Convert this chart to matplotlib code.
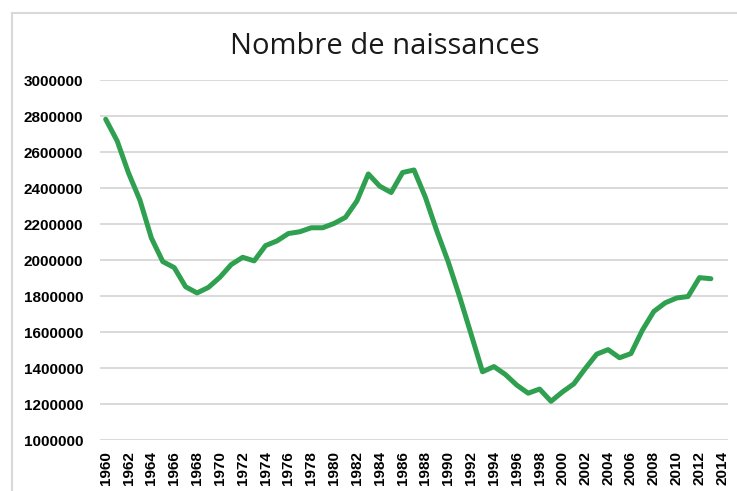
import numpy as np
import matplotlib.pyplot as plt
from matplotlib.lines import Line2D

# naissances par annee
years = list(range(1960, 2014))
births = [
    2782000, 2662000, 2483000, 2332000, 2122000, 1991000, 1958000, 1851000,
    1817000, 1848000, 1904000, 1975000, 2015000, 1995000, 2080000, 2106000,
    2147000, 2157000, 2179000, 2179000, 2203000, 2237000, 2328000, 2478000,
    2410000, 2375000, 2486000, 2500000, 2348000, 2161000, 1989000, 1795000,
    1588000, 1379000, 1408000, 1364000, 1305000, 1260000, 1283000, 1215000,
    1267000, 1312000, 1397000, 1477000, 1502000, 1457000, 1480000, 1610000,
    1714000, 1762000, 1789000, 1797000, 1902000, 1896000,
]
tick_years = list(range(1960, 2015, 2))
y_ticks = list(range(1000000, 3000001, 200000))

W, H = 737, 491
fig = plt.figure(figsize=(W / 100, H / 100), dpi=100)
ax = fig.add_axes([100 / W, 1 - 440 / H, 628 / W, 360 / H])

ax.plot(years, births, color="#2ea04f", lw=3.6, solid_joinstyle="round",
        solid_capstyle="round", zorder=3)

ax.set_xlim(1959.5, 2014.5)
ax.set_ylim(1000000, 3000000)
ax.set_yticks(y_ticks)
ax.set_yticklabels([str(v) for v in y_ticks], fontfamily="Liberation Sans",
                   fontweight="bold", fontsize=11)
ax.set_xticks(tick_years)
ax.set_xticklabels([str(y) for y in tick_years], rotation=90,
                   fontfamily="Liberation Sans", fontweight="bold", fontsize=11)
ax.tick_params(length=0)
ax.tick_params(axis="x", pad=8)
ax.tick_params(axis="y", pad=12)
ax.grid(axis="y", color="#d9d9d9", lw=1.4)
ax.set_axisbelow(True)
for s in ax.spines.values():
    s.set_visible(False)

fig.text(385 / W, 1 - 47 / H, "Nombre de naissances", ha="center", va="center",
         fontfamily="Open Sans", fontsize=21, color="#1a1a1a")

# cadre du graphique
fig.add_artist(Line2D([12 / W, 1], [1 - 13 / H, 1 - 13 / H], color="#d9d9d9", lw=1.5))
fig.add_artist(Line2D([12 / W, 12 / W], [0, 1 - 13 / H], color="#d9d9d9", lw=1.5))

fig.savefig("out.png", dpi=100)
